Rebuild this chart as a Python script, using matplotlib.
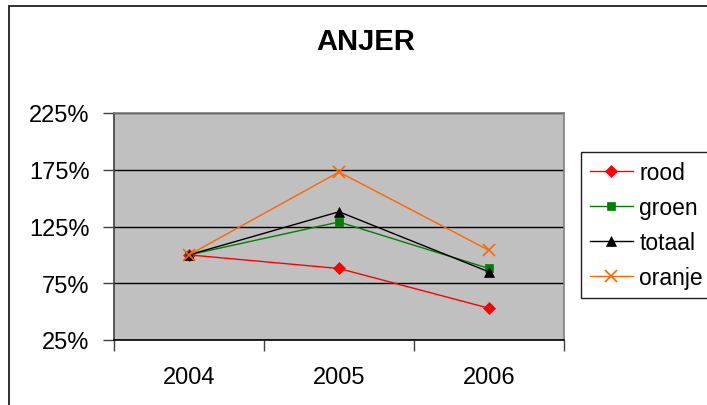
import matplotlib.pyplot as plt
from matplotlib.patches import Rectangle
from matplotlib.ticker import FixedLocator, NullFormatter

plt.rcParams['font.family'] = ['Liberation Sans', 'DejaVu Sans']

years = ["2004", "2005", "2006"]
rood = [100, 88, 53]
groen = [100, 129, 88]
totaal = [100, 138, 85]
oranje = [100, 173, 104]

series = [
    ("rood", rood, "#FF0000", "D", 6.5),
    ("groen", groen, "#008000", "s", 6),
    ("totaal", totaal, "#000000", "^", 7),
    ("oranje", oranje, "#FF6600", "x", 8),
]

W, H = 707, 406
fig = plt.figure(figsize=(W / 100, H / 100), dpi=100)

# outer chart border (cropped on right and bottom)
fig.patches.append(Rectangle((8.5 / W, -0.1), 1.2, 1.1 - 6.5 / H,
                             transform=fig.transFigure, fill=False,
                             edgecolor="#202020", lw=1.3))

ax = fig.add_axes([114 / W, 1 - 341 / H, 450 / W, 227 / H])
ax.set_facecolor("#C0C0C0")

x = list(range(len(years)))
for name, vals, color, marker, ms in series:
    ax.plot(x, vals, color=color, lw=1.0, marker=marker, markersize=ms,
            markeredgewidth=1.2 if marker == "x" else 0.5,
            markeredgecolor=color, label=name, zorder=3)

ax.set_xlim(-0.5, 2.5)
ax.set_ylim(25, 225)

ax.set_yticks([25, 75, 125, 175, 225])
ax.set_yticklabels(["25%", "75%", "125%", "175%", "225%"])
ax.yaxis.grid(True, color="black", lw=1.0)
ax.set_axisbelow(True)

ax.xaxis.set_major_locator(FixedLocator([-0.5, 0.5, 1.5, 2.5]))
ax.xaxis.set_major_formatter(NullFormatter())
ax.set_xticks(x, minor=True)
ax.set_xticklabels(years, minor=True)

ax.tick_params(axis="y", length=8, width=1, color="#404040", pad=9.5, labelsize=17)
ax.tick_params(axis="x", which="major", length=8, width=1, color="#404040")
ax.tick_params(axis="x", which="minor", length=0, pad=19, labelsize=17)

for side in ["top", "right"]:
    ax.spines[side].set_color("#808080")
    ax.spines[side].set_linewidth(1.2)
ax.spines["left"].set_color("#404040")
ax.spines["left"].set_linewidth(1.2)
ax.spines["bottom"].set_color("black")
ax.spines["bottom"].set_linewidth(1.2)

fig.text(366 / W, 1 - 42 / H, "ANJER", ha="center", va="center",
         fontsize=21, fontweight="bold")

leg = fig.legend(loc="upper left", bbox_to_anchor=(581 / W, 1 - 153 / H),
                 bbox_transform=fig.transFigure, borderaxespad=0,
                 fontsize=16.5, handlelength=1.85, handletextpad=0.3,
                 labelspacing=0.52, borderpad=0.4, fancybox=False,
                 framealpha=1, edgecolor="#202020")
leg.get_frame().set_linewidth(1.0)

fig.savefig("out.png", dpi=100)
